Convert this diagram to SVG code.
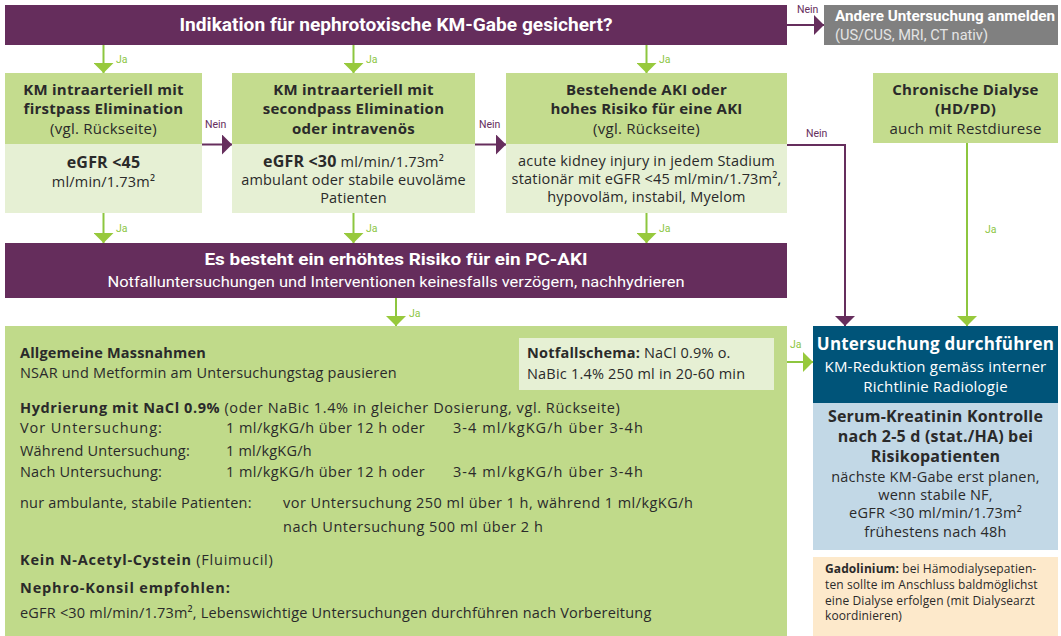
<svg xmlns="http://www.w3.org/2000/svg" width="1061" height="636" viewBox="0 0 1061 636">
<style>
text{font-family:"Open Sans","Liberation Sans",sans-serif;fill:#2a2a2a;font-size:14.5px;letter-spacing:0.2px}
.b{font-weight:700}
.c{font-family:Roboto,"Liberation Sans",sans-serif;letter-spacing:0}
.w{fill:#fff}
.m{text-anchor:middle}
.h{font-size:15px;letter-spacing:0.25px}
.s12{font-size:12px;letter-spacing:0.1px}
.s15{font-size:15px}
.s16{font-size:16px}
.s17{font-size:17px}
.s18{font-size:18px}
.lbl{font-family:Roboto,"Liberation Sans",sans-serif;font-size:10.5px;letter-spacing:0}
.ja{fill:#8dc63f}
.nein{fill:#662e5d}
.sub{fill:#e4e4e4}
.purple{fill:#652d5c}
.hg{fill:#c4dc8e}
.lg{fill:#e6f0d4}
.big{fill:#c0da8a}
.gl{stroke:#8dc63f;stroke-width:2;fill:none;marker-end:url(#ag)}
.pl{stroke:#662e5d;stroke-width:2;fill:none;marker-end:url(#ap)}
</style>
<defs>
<marker id="ag" viewBox="0 0 10 20" refX="10" refY="10" markerWidth="10" markerHeight="20" markerUnits="userSpaceOnUse" orient="auto"><path d="M0,0 L10,10 L0,20 z" fill="#97c93c"/></marker>
<marker id="ap" viewBox="0 0 10 20" refX="10" refY="10" markerWidth="10" markerHeight="20" markerUnits="userSpaceOnUse" orient="auto"><path d="M0,0 L10,10 L0,20 z" fill="#662e5d"/></marker>
</defs>

<g id="connectors">
<path class="gl" d="M103.5,45 V73"/>
<path class="gl" d="M353.5,45 V73"/>
<path class="gl" d="M646.5,45 V73"/>
<path class="pl" d="M787,25 H824"/>
<path class="pl" d="M202,144.5 H232"/>
<path class="pl" d="M475,144.5 H506"/>
<path class="pl" d="M787,145 H845 V326"/>
<path class="gl" d="M967,143 V326"/>
<path class="gl" d="M103.5,213 V243"/>
<path class="gl" d="M353.5,213 V243"/>
<path class="gl" d="M646.5,213 V243"/>
<path class="gl" d="M396,298 V326"/>
<path class="gl" d="M787,362 H813"/>
<text class="lbl ja" x="116" y="63">Ja</text>
<text class="lbl ja" x="366" y="63">Ja</text>
<text class="lbl ja" x="659" y="63">Ja</text>
<text class="lbl nein" x="797" y="13">Nein</text>
<text class="lbl nein" x="205" y="128">Nein</text>
<text class="lbl nein" x="479" y="128">Nein</text>
<text class="lbl nein" x="806" y="137">Nein</text>
<text class="lbl ja" x="985" y="233">Ja</text>
<text class="lbl ja" x="116" y="232">Ja</text>
<text class="lbl ja" x="366" y="232">Ja</text>
<text class="lbl ja" x="659" y="232">Ja</text>
<text class="lbl ja" x="409" y="317">Ja</text>
<text class="lbl ja" x="790" y="348">Ja</text>
</g>

<g id="indikation">
<rect class="purple" x="5" y="5" width="782" height="40"/>
<text class="c b w m s18" x="396" y="31" textLength="433" lengthAdjust="spacingAndGlyphs">Indikation für nephrotoxische KM-Gabe gesichert?</text>
</g>

<g id="andere">
<rect x="824" y="5" width="234" height="40" fill="#808080"/>
<text class="c b w s15" x="835" y="21" textLength="220" lengthAdjust="spacingAndGlyphs">Andere Untersuchung anmelden</text>
<text class="c sub s15" x="835" y="40" textLength="153" lengthAdjust="spacingAndGlyphs">(US/CUS, MRI, CT nativ)</text>
</g>

<g id="firstpass">
<rect class="hg" x="5" y="73" width="197" height="71"/>
<rect class="lg" x="5" y="144" width="197" height="69"/>
<text class="b h m" x="103.5" y="95">KM intraarteriell mit</text>
<text class="b h m" x="103.5" y="114">firstpass Elimination</text>
<text class="h m" x="103.5" y="134">(vgl. Rückseite)</text>
<text class="b s16 m" x="103.5" y="168">eGFR &lt;45</text>
<text class="m" x="103.5" y="187">ml/min/1.73m²</text>
</g>

<g id="secondpass">
<rect class="hg" x="232" y="73" width="243" height="71"/>
<rect class="lg" x="232" y="144" width="243" height="69"/>
<text class="b h m" x="353.5" y="95">KM intraarteriell mit</text>
<text class="b h m" x="353.5" y="114">secondpass Elimination</text>
<text class="b h m" x="353.5" y="134">oder intravenös</text>
<text class="m" x="353.5" y="167"><tspan class="b s16">eGFR &lt;30</tspan> ml/min/1.73m²</text>
<text class="m" x="353.5" y="185">ambulant oder stabile euvoläme</text>
<text class="m" x="353.5" y="203">Patienten</text>
</g>

<g id="aki">
<rect class="hg" x="506" y="73" width="281" height="71"/>
<rect class="lg" x="506" y="144" width="281" height="69"/>
<text class="b h m" x="646.5" y="95">Bestehende AKI oder</text>
<text class="b h m" x="646.5" y="114">hohes Risiko für eine AKI</text>
<text class="h m" x="646.5" y="134">(vgl. Rückseite)</text>
<text class="m" x="646.5" y="166">acute kidney injury in jedem Stadium</text>
<text class="m" x="646.5" y="184">stationär mit eGFR &lt;45 ml/min/1.73m²,</text>
<text class="m" x="646.5" y="202">hypovoläm, instabil, Myelom</text>
</g>

<g id="dialyse">
<rect class="hg" x="873" y="73" width="185" height="70"/>
<text class="b h m" x="965.5" y="95">Chronische Dialyse</text>
<text class="b h m" x="965.5" y="114">(HD/PD)</text>
<text class="h m" x="965.5" y="134">auch mit Restdiurese</text>
</g>

<g id="pcaki">
<rect class="purple" x="5" y="243" width="782" height="55"/>
<text class="c b w m s17" x="396" y="265" textLength="383" lengthAdjust="spacingAndGlyphs">Es besteht ein erhöhtes Risiko für ein PC-AKI</text>
<text class="c w m s15" x="396" y="287" textLength="577" lengthAdjust="spacingAndGlyphs">Notfalluntersuchungen und Interventionen keinesfalls verzögern, nachhydrieren</text>
</g>

<g id="massnahmen">
<rect class="big" x="5" y="326" width="782" height="310"/>
<text class="b" x="20" y="358">Allgemeine Massnahmen</text>
<text x="20" y="378">NSAR und Metformin am Untersuchungstag pausieren</text>
<text x="20" y="413" textLength="600" lengthAdjust="spacing"><tspan class="b">Hydrierung mit NaCl 0.9%</tspan> (oder NaBic 1.4% in gleicher Dosierung, vgl. Rückseite)</text>
<text x="20" y="433" textLength="142" lengthAdjust="spacing">Vor Untersuchung:</text>
<text x="226" y="433" textLength="199" lengthAdjust="spacing">1 ml/kgKG/h über 12 h oder</text>
<text x="453" y="433" textLength="190" lengthAdjust="spacing">3-4 ml/kgKG/h über 3-4h</text>
<text x="20" y="456">Während Untersuchung:</text>
<text x="226" y="456">1 ml/kgKG/h</text>
<text x="20" y="477">Nach Untersuchung:</text>
<text x="226" y="477" textLength="199" lengthAdjust="spacing">1 ml/kgKG/h über 12 h oder</text>
<text x="453" y="477" textLength="190" lengthAdjust="spacing">3-4 ml/kgKG/h über 3-4h</text>
<text x="20" y="508">nur ambulante, stabile Patienten:</text>
<text x="283" y="508" textLength="410" lengthAdjust="spacing">vor Untersuchung 250 ml über 1 h, während 1 ml/kgKG/h</text>
<text x="283" y="532" textLength="260" lengthAdjust="spacing">nach Untersuchung 500 ml über 2 h</text>
<text x="20" y="565" textLength="253" lengthAdjust="spacing"><tspan class="b">Kein N-Acetyl-Cystein</tspan> (Fluimucil)</text>
<text class="b" x="20" y="593" textLength="210" lengthAdjust="spacing">Nephro-Konsil empfohlen:</text>
<text x="20" y="618">eGFR &lt;30 ml/min/1.73m², Lebenswichtige Untersuchungen durchführen nach Vorbereitung</text>
</g>

<g id="notfallschema">
<rect class="lg" x="519" y="338" width="255" height="52"/>
<text x="527" y="358"><tspan class="b">Notfallschema:</tspan> NaCl 0.9% o.</text>
<text x="527" y="379">NaBic 1.4% 250 ml in 20-60 min</text>
</g>

<g id="untersuchung">
<rect x="813" y="326" width="245" height="77" fill="#005479"/>
<rect x="813" y="403" width="245" height="147" fill="#c2d8e6"/>
<text class="b w m s17" x="935.5" y="350">Untersuchung durchführen</text>
<text class="w m s15" x="935.5" y="372">KM-Reduktion gemäss interner</text>
<text class="w m s15" x="935.5" y="392">Richtlinie Radiologie</text>
<text class="b m s16" x="935.5" y="422">Serum-Kreatinin Kontrolle</text>
<text class="b m s16" x="935.5" y="442">nach 2-5 d (stat./HA) bei</text>
<text class="b m s16" x="935.5" y="462">Risikopatienten</text>
<text class="m" x="935.5" y="482">nächste KM-Gabe erst planen,</text>
<text class="m" x="935.5" y="500">wenn stabile NF,</text>
<text class="m" x="935.5" y="518">eGFR &lt;30 ml/min/1.73m²</text>
<text class="m" x="935.5" y="537">frühestens nach 48h</text>
</g>

<g id="gadolinium">
<rect x="813" y="557" width="245" height="79" fill="#fde9cb"/>
<text class="s12" x="825" y="573"><tspan class="b">Gadolinium:</tspan> bei Hämodialysepatien-</text>
<text class="s12" x="825" y="589">ten sollte im Anschluss baldmöglichst</text>
<text class="s12" x="825" y="605">eine Dialyse erfolgen (mit Dialysearzt</text>
<text class="s12" x="825" y="620">koordinieren)</text>
</g>
</svg>
